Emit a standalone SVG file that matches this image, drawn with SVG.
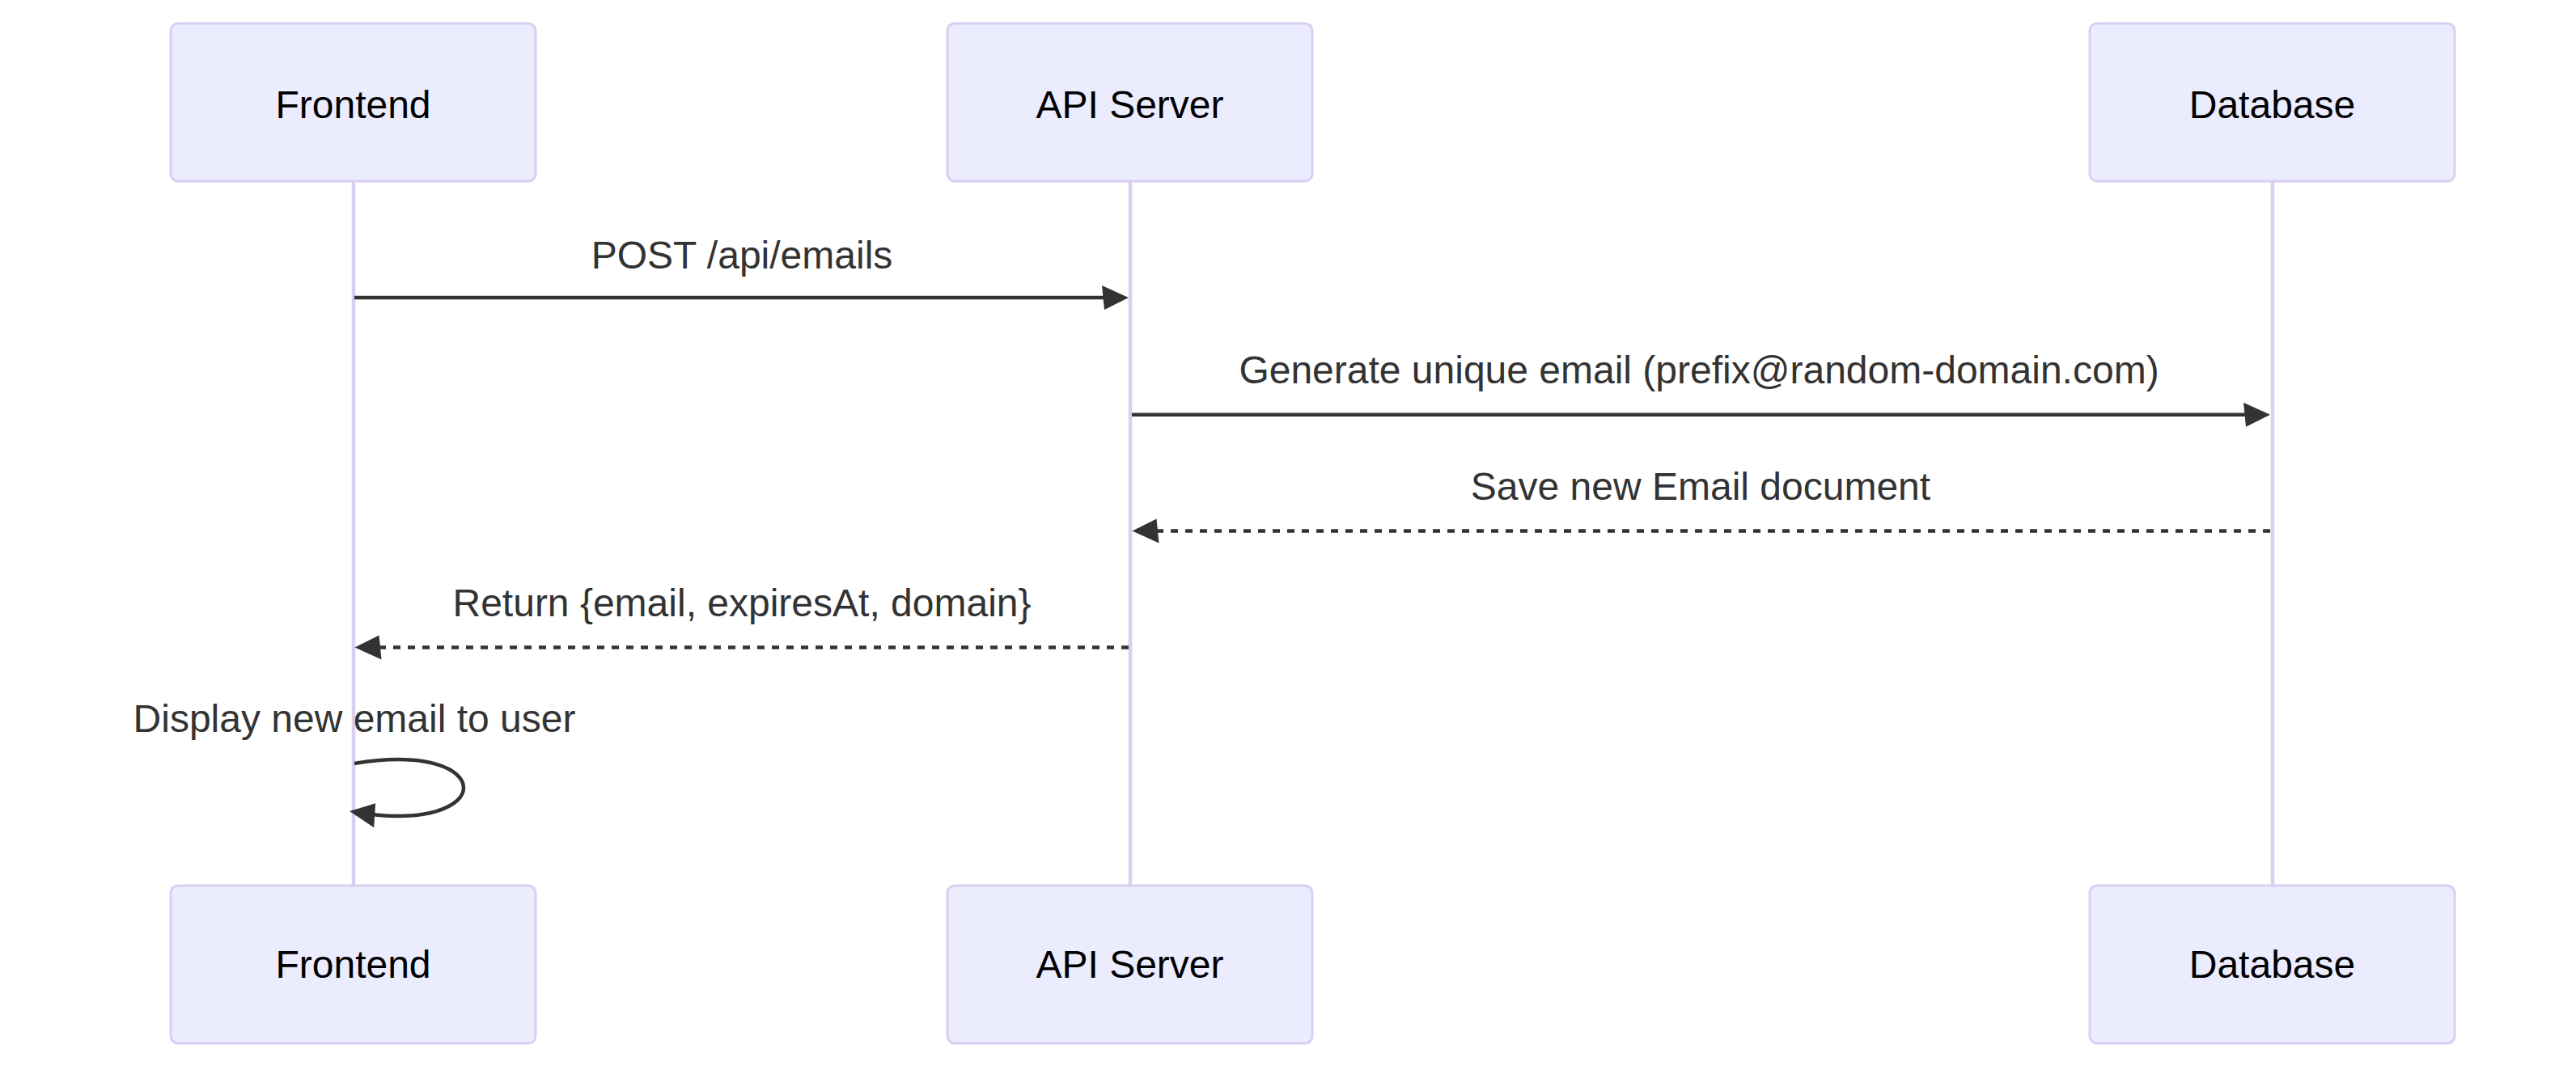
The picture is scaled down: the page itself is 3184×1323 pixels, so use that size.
<svg xmlns="http://www.w3.org/2000/svg" width="3184" height="1323" viewBox="0 0 3184 1323">
<style>
.actor{fill:#ECECFF;stroke:#DACEF3;stroke-width:3}
.actor-text{font-family:"Liberation Sans",Arial,sans-serif;font-size:48px;fill:#000;text-anchor:middle}
.lifeline{stroke:#DACEF3;stroke-width:4.5}
.msg{stroke:#333;stroke-width:4.5;fill:none}
.dashed{stroke-dasharray:9,9}
.msg-text{font-family:"Liberation Sans",Arial,sans-serif;font-size:48px;fill:#333;text-anchor:middle}
</style>
<defs>
<marker id="arrow" markerUnits="userSpaceOnUse" markerWidth="36" markerHeight="36" refX="24" refY="15" orient="auto" overflow="visible">
<path d="M -3 0 L 30 15 L 0 30 z" fill="#333"/>
</marker>
</defs>
<rect width="3184" height="1323" fill="#fff"/>
<g id="lifelines">
<line class="lifeline" x1="437" y1="224" x2="437" y2="1095"/>
<line class="lifeline" x1="1397" y1="224" x2="1397" y2="1095"/>
<line class="lifeline" x1="2809" y1="224" x2="2809" y2="1095"/>
</g>
<g id="frontend-top"><rect class="actor" x="211" y="29" width="451" height="195" rx="9"/><text class="actor-text" x="436.5" y="146">Frontend</text></g>
<g id="api-top"><rect class="actor" x="1171" y="29" width="451" height="195" rx="9"/><text class="actor-text" x="1396.5" y="146">API Server</text></g>
<g id="db-top"><rect class="actor" x="2583" y="29" width="451" height="195" rx="9"/><text class="actor-text" x="2808.5" y="146">Database</text></g>
<g id="frontend-bottom"><rect class="actor" x="211" y="1095" width="451" height="195" rx="9"/><text class="actor-text" x="436.5" y="1209">Frontend</text></g>
<g id="api-bottom"><rect class="actor" x="1171" y="1095" width="451" height="195" rx="9"/><text class="actor-text" x="1396.5" y="1209">API Server</text></g>
<g id="db-bottom"><rect class="actor" x="2583" y="1095" width="451" height="195" rx="9"/><text class="actor-text" x="2808.5" y="1209">Database</text></g>
<g id="connectors">
<line class="msg" x1="438" y1="368" x2="1389" y2="368" marker-end="url(#arrow)"/>
<text class="msg-text" x="917" y="332">POST /api/emails</text>
<line class="msg" x1="1399" y1="512.7" x2="2800" y2="512.7" marker-end="url(#arrow)"/>
<text class="msg-text" x="2100" y="474">Generate unique email (prefix@random-domain.com)</text>
<line class="msg dashed" x1="2806" y1="656.5" x2="1405.5" y2="656.5" marker-end="url(#arrow)"/>
<text class="msg-text" x="2102" y="618">Save new Email document</text>
<line class="msg dashed" x1="1395" y1="800.5" x2="444.5" y2="800.5" marker-end="url(#arrow)"/>
<text class="msg-text" x="917" y="762">Return {email, expiresAt, domain}</text>
<path class="msg" d="M 438 944 C 618 914 618 1034 438 1004" marker-end="url(#arrow)"/>
<text class="msg-text" x="438" y="905">Display new email to user</text>
</g>
</svg>
